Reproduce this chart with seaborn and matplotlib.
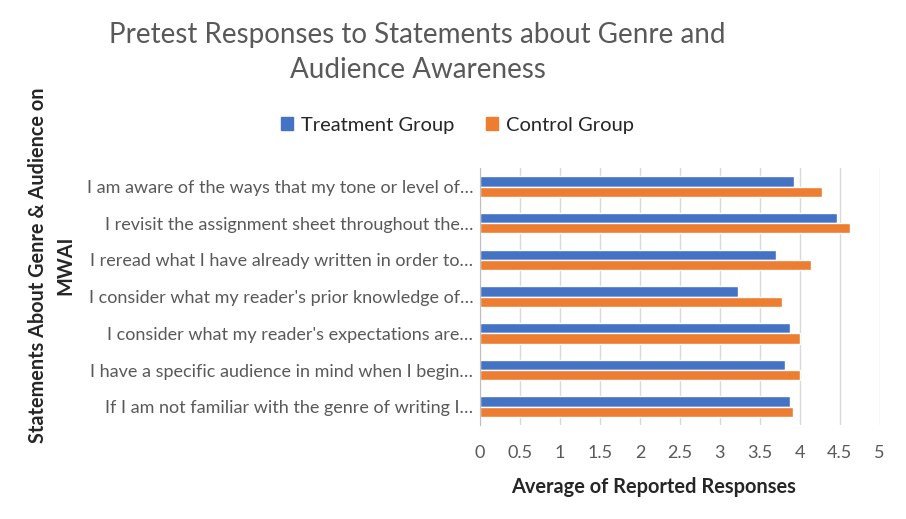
#!/usr/bin/env python3
"""
Pretest responses to genre and audience statements, grouped horizontal bars.
"""

import pandas as pd
import matplotlib.pyplot as plt
import seaborn as sns

sns.set_style("white")
plt.rcParams["font.family"] = ["Lato", "DejaVu Sans"]

statements = [
    "I am aware of the ways that my tone or level of\u2026",
    "I revisit the assignment sheet throughout the\u2026",
    "I reread what I have already written in order to\u2026",
    "I consider what my reader's prior knowledge of\u2026",
    "I consider what my reader's expectations are\u2026",
    "I have a specific audience in mind when I begin\u2026",
    "If I am not familiar with the genre of writing I\u2026",
]
treatment = [3.93, 4.46, 3.70, 3.23, 3.88, 3.81, 3.88]
control = [4.28, 4.63, 4.14, 3.78, 4.00, 4.00, 3.92]
groups = ["Treatment Group", "Control Group"]
colors = ["#4472C4", "#ED7D31"]

df = pd.DataFrame({
    "statement": statements * 2,
    "value": treatment + control,
    "group": [groups[0]] * len(statements) + [groups[1]] * len(statements),
})

fig = plt.figure(figsize=(9.06, 5.19), dpi=100)
ax = fig.add_axes([0.530, 0.181, 0.441, 0.495])

sns.barplot(data=df, x="value", y="statement", hue="group", orient="h",
            palette=colors, saturation=1, width=0.56, ax=ax, legend=False)

ax.set_xlim(0, 5)
ax.set_xticks([0, 0.5, 1, 1.5, 2, 2.5, 3, 3.5, 4, 4.5, 5])
ax.set_xticklabels(["0", "0.5", "1", "1.5", "2", "2.5", "3", "3.5", "4", "4.5", "5"])
ax.grid(axis="x", color="#d9d9d9", linewidth=1)
ax.set_axisbelow(True)
for side in ["top", "right", "bottom"]:
    ax.spines[side].set_visible(False)
ax.spines["left"].set_color("#bfbfbf")
ax.tick_params(axis="x", length=0, labelsize=13, colors="#595959", pad=14)
ax.tick_params(axis="y", length=0, labelsize=13, colors="#595959", pad=5)

ax.set_xlabel("")
ax.set_ylabel("")
fig.text(0.721, 0.062, "Average of Reported Responses", ha="center", va="center",
         fontsize=14.4, fontweight="bold")
fig.text(0.057, 0.488, "Statements About Genre & Audience on\nMWAI", rotation=90,
         ha="center", va="center", fontsize=14.3, fontweight="bold", linespacing=1.5)

fig.text(0.461, 0.899, "Pretest Responses to Statements about Genre and\nAudience Awareness",
         ha="center", va="center", fontsize=20, color="#595959", linespacing=1.45)

handles = [plt.Rectangle((0, 0), 1, 1, color=c) for c in colors]
fig.legend(handles, groups, loc="center", bbox_to_anchor=(0.505, 0.759), ncol=2,
           frameon=False, fontsize=14.5, handlelength=0.6, handleheight=0.6,
           handletextpad=0.4, columnspacing=1.6)

fig.savefig("out.png", dpi=100)
